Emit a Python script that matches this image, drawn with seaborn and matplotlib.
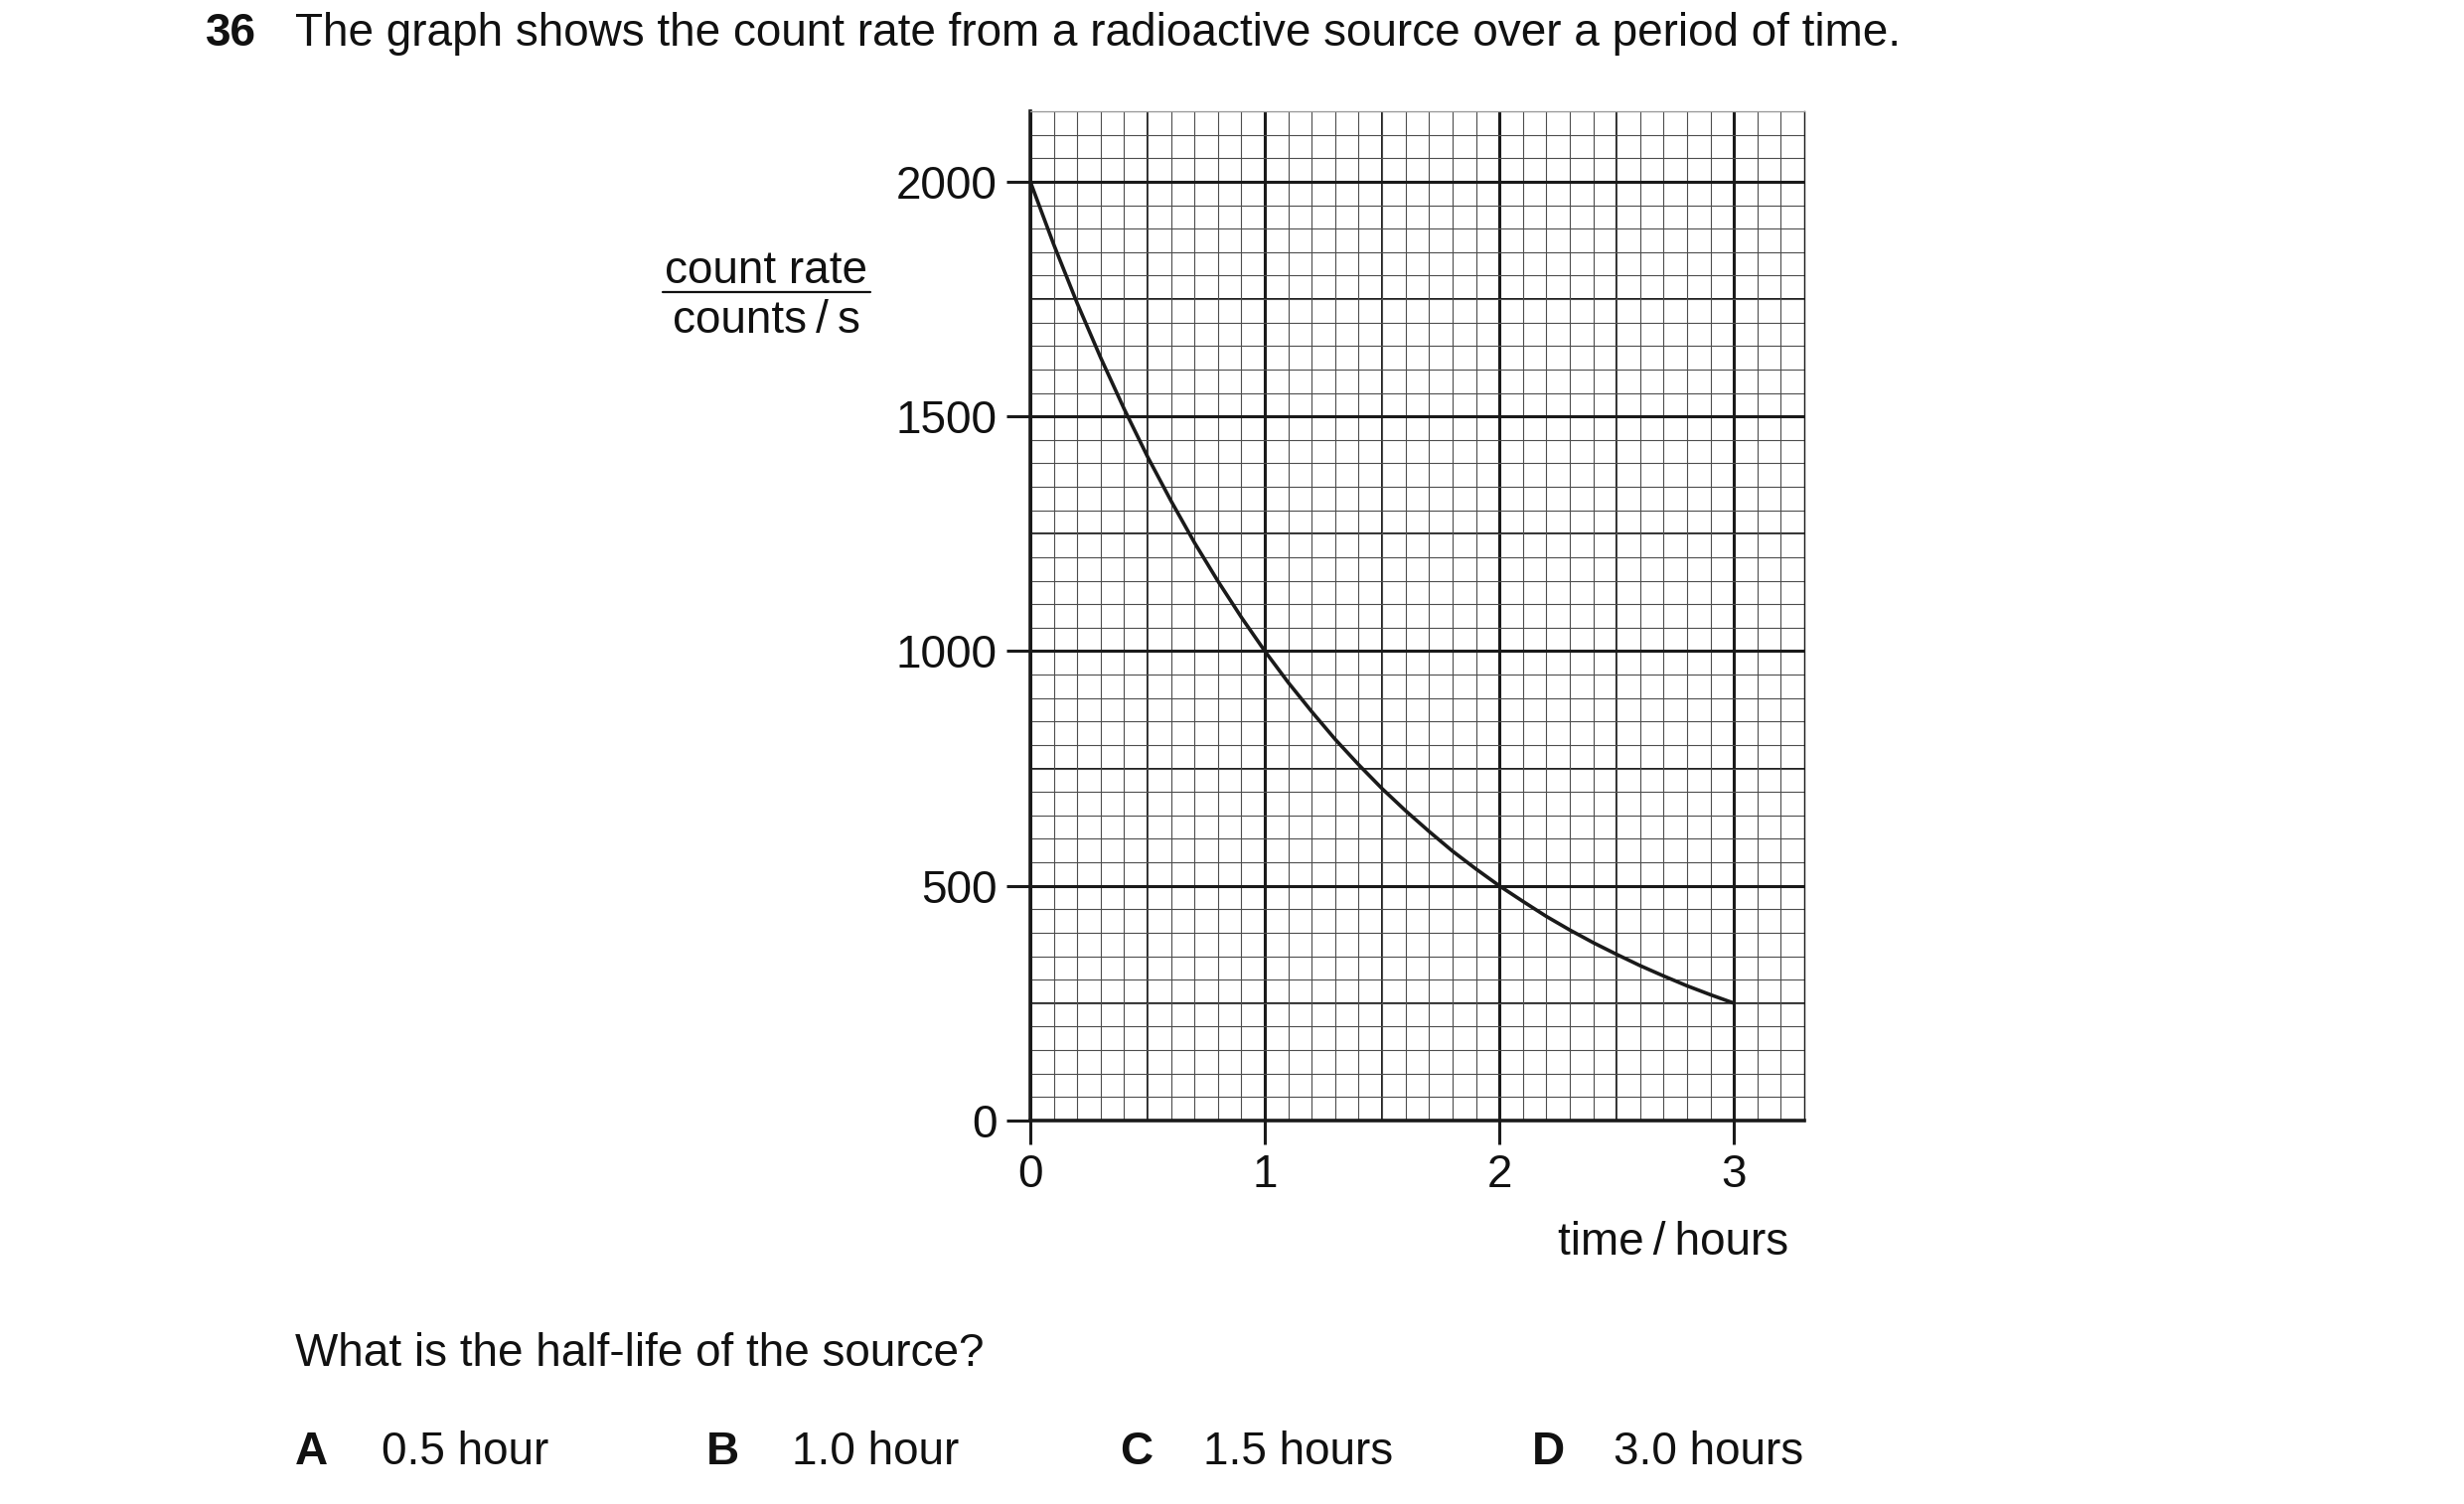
import numpy as np
import pandas as pd
import matplotlib
matplotlib.use("Agg")
from matplotlib import pyplot as plt
from matplotlib.ticker import MultipleLocator
import seaborn as sns

# values, every 0.1 hour
time_hours = [0.0, 0.1, 0.2, 0.3, 0.4, 0.5, 0.6, 0.7, 0.8, 0.9, 1.0,
              1.1, 1.2, 1.3, 1.4, 1.5, 1.6, 1.7, 1.8, 1.9, 2.0,
              2.1, 2.2, 2.3, 2.4, 2.5, 2.6, 2.7, 2.8, 2.9, 3.0]
count_rate = [2000, 1866, 1741, 1625, 1516, 1414, 1320, 1231, 1149, 1072, 1000,
              933, 871, 812, 758, 707, 660, 616, 574, 536, 500,
              467, 435, 406, 379, 354, 330, 308, 287, 268, 250]
x_ticks = [0, 1, 2, 3]
y_ticks = [0, 500, 1000, 1500, 2000]
answers = [("A", "0.5 hour"), ("B", "1.0 hour"), ("C", "1.5 hours"), ("D", "3.0 hours")]

df = pd.DataFrame({"time": time_hours, "rate": count_rate})

sns.set_style("white")
plt.rcParams['font.family'] = ['Liberation Sans', 'DejaVu Sans']
ink = '#111111'
fs = 33

W, H = 2480, 1514
fig = plt.figure(figsize=(W / 100, H / 100), dpi=100)
ax = fig.add_axes([1037 / W, 1 - 1128 / H, 779 / W, 1016 / H])

# graph paper
ax.set_xlim(0, 3.3)
ax.set_ylim(0, 2150)
ax.xaxis.set_major_locator(MultipleLocator(1))
ax.yaxis.set_major_locator(MultipleLocator(500))
ax.xaxis.set_minor_locator(MultipleLocator(0.1))
ax.yaxis.set_minor_locator(MultipleLocator(50))
ax.grid(which='minor', color='#4d4d4d', lw=0.8)
ax.grid(which='major', color='#1a1a1a', lw=2.2)
for v in np.arange(0.5, 3.3, 1.0):
    ax.axvline(v, color='#1a1a1a', lw=1.4, zorder=0.5)
for v in np.arange(250, 2150, 500):
    ax.axhline(v, color='#1a1a1a', lw=1.4, zorder=0.5)
ax.set_axisbelow(True)

sns.lineplot(data=df, x="time", y="rate", ax=ax, color='#1a1a1a', lw=2.6, zorder=3)

ax.set_xticks(x_ticks)
ax.set_yticks(y_ticks)
ax.set_xticklabels([str(t) for t in x_ticks])
ax.set_yticklabels([str(t) for t in y_ticks])
ax.tick_params(which='major', direction='out', length=17, width=2.2, color='#1a1a1a',
               labelsize=fs, labelcolor=ink, pad=7,
               bottom=True, left=True)
ax.tick_params(which='minor', length=0)
ax.set_xlabel("")
ax.set_ylabel("")

for side in ['left', 'bottom']:
    ax.spines[side].set_linewidth(2.6)
    ax.spines[side].set_color('#1a1a1a')
ax.spines['top'].set_linewidth(0.9)
ax.spines['top'].set_color('#9a9a9a')
ax.spines['right'].set_linewidth(1.0)
ax.spines['right'].set_color('#1a1a1a')


def put(x, y, s, **kw):
    fig.text(x / W, 1 - y / H, s, va='baseline', color=ink, fontsize=fs, **kw)


put(207, 46, "36", fontweight='bold')
put(297, 46, "The graph shows the count rate from a radioactive source over a period of time.")

# y label as a fraction
put(771, 285, "count rate", ha='center')
fig.add_artist(plt.Line2D([667 / W, 876 / W], [1 - 294 / H, 1 - 294 / H], color=ink, lw=1.6))
put(771, 335, "counts\u2009/\u2009s", ha='center')

put(1684, 1263, "time\u2009/\u2009hours", ha='center')

put(297, 1375, "What is the half-life of the source?")
letter_x = [297, 711, 1127, 1542]
value_x = [384, 797, 1211, 1624]
for (letter, val), lx, vx in zip(answers, letter_x, value_x):
    put(lx, 1474, letter, fontweight='bold')
    put(vx, 1474, val)

fig.savefig("out.png", dpi=100)
